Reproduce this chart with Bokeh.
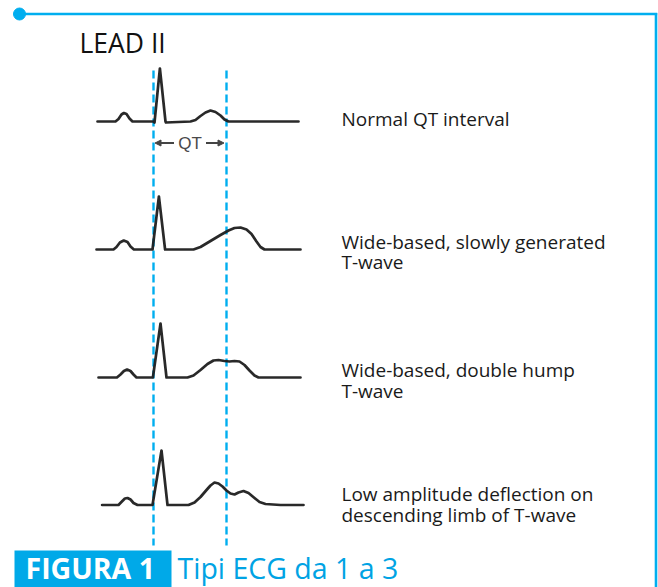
from bokeh.plotting import figure
from bokeh.models import Range1d, Label, Arrow, NormalHead, ColumnDataSource
from bokeh.embed import file_html
from bokeh.resources import INLINE

# ---------------- data ----------------
lead_title = "LEAD II"
row_labels = [
    ["Normal QT interval"],
    ["Wide-based, slowly generated", "T-wave"],
    ["Wide-based, double hump", "T-wave"],
    ["Low amplitude deflection on", "descending limb of T-wave"],
]
qt_label = "QT"
qt_interval_ms = 365          # normal QT (QRS onset -> end of T)
caption_tag = "FIGURA 1"
caption_text = "Tipi ECG da 1 a 3"

# ECG traces: time in ms relative to QRS onset, amplitude in mV
normal_t_ms = [-280, -190, -175, -160, -148, -135, -120, -105, 0, 5, 32, 60, 62, 185,
               210, 235, 260, 285, 310, 335, 355, 375, 725]
normal_mv = [0, 0, 0.05, 0.14, 0.17, 0.15, 0.06, 0, 0, -0.02, 1.06, 0, -0.02, 0,
             0.03, 0.11, 0.18, 0.22, 0.19, 0.12, 0.04, 0, 0]

wide_t_ms = [-285, -200, -185, -168, -149, -130, -115, -98, -5, 27, 58, 200,
             235, 285, 335, 375, 405, 435, 465, 490, 515, 535, 555, 735]
wide_mv = [0, 0, 0.05, 0.14, 0.18, 0.15, 0.06, 0, 0, 1.06, 0, 0,
           0.05, 0.17, 0.29, 0.38, 0.43, 0.44, 0.40, 0.31, 0.16, 0.05, 0, 0]

hump_t_ms = [-275, -183, -165, -148, -132, -115, -100, -85, -3, 35, 65, 170,
             200, 235, 270, 300, 325, 355, 380, 405, 430, 455, 480, 505, 525, 735]
hump_mv = [0, 0, 0.06, 0.13, 0.16, 0.13, 0.06, 0, 0, 1.08, 0, 0,
           0.04, 0.15, 0.27, 0.34, 0.35, 0.33, 0.32, 0.33, 0.32, 0.25, 0.14, 0.04, 0, 0]

notch_t_ms = [-257, -175, -158, -143, -130, -115, -100, -80, -5, 40, 70, 175,
              205, 235, 265, 285, 305, 325, 345, 365, 385, 405, 425, 450, 475, 505,
              530, 560, 635, 750]
notch_mv = [0, 0, 0.07, 0.13, 0.14, 0.11, 0.04, 0, 0, 1.09, 0, 0,
            0.05, 0.16, 0.30, 0.39, 0.45, 0.43, 0.37, 0.29, 0.23, 0.21, 0.25, 0.28, 0.24, 0.14,
            0.06, 0.02, 0, 0]

traces = [(normal_t_ms, normal_mv), (wide_t_ms, wide_mv),
          (hump_t_ms, hump_mv), (notch_t_ms, notch_mv)]

# ---------------- layout / style ----------------
BLUE = "#00AEEF"
INK = "#1e1e1e"
FONT = "Open Sans"

QRS_X = 153.0          # picture x of QRS onset
MS_PER_PX = 5.0
PX_PER_MV = 50.0
row_baselines = [121, 249, 377, 504.5]
label_x = 341
label_y = [[118.5], [241, 261], [369.5, 390], [493.5, 514]]

W, H = 658, 587
p = figure(width=W, height=H, output_backend="svg", toolbar_location=None,
           x_range=Range1d(0, W), y_range=Range1d(H, 0),
           x_axis_type=None, y_axis_type=None, min_border=0,
           outline_line_color=None, background_fill_color="white",
           border_fill_color="white")
p.xgrid.visible = False
p.ygrid.visible = False


def to_x(t):
    return QRS_X + t / MS_PER_PX


# frame: top line with dot, right line
p.segment(x0=[19, 655.5], y0=[13.5, 12.5], x1=[656.7, 655.5], y1=[13.5, 600],
          line_color=BLUE, line_width=2.6)
p.scatter(x=[19], y=[13.5], size=12, color=BLUE)

# dashed QT guide lines
qx = [to_x(0), to_x(qt_interval_ms)]
p.segment(x0=qx, y0=[70, 70], x1=qx, y1=[545, 545], line_color=BLUE,
          line_width=2.4, line_dash="8 4")

# ECG traces
for (tms, mv), base in zip(traces, row_baselines):
    src = ColumnDataSource(dict(x=[to_x(t) for t in tms],
                                y=[base - v * PX_PER_MV for v in mv]))
    p.line("x", "y", source=src, line_color=INK, line_width=2.7,
           line_join="round", line_cap="round", line_alpha=0.95)

# QT arrows
qt_mid = (qx[0] + qx[1]) / 2
qt_y = 142.5
for x_start, x_end in [(qt_mid - 16, qx[0] + 1.5), (qt_mid + 16, qx[1] - 2.5)]:
    p.add_layout(Arrow(end=NormalHead(size=6, fill_color="#444444", line_color="#444444"),
                       x_start=x_start, y_start=qt_y, x_end=x_end, y_end=qt_y,
                       line_color="#444444", line_width=2))
p.add_layout(Label(x=qt_mid, y=qt_y + 0.5, text=qt_label, text_align="center",
                   text_baseline="middle", text_font="Liberation Sans",
                   text_font_size="17px", text_color="#4a4a4a"))

# title
p.add_layout(Label(x=79, y=42, text=lead_title, text_font=FONT,
                   text_font_size="26.5px", text_color="#111111",
                   text_baseline="alphabetic"))

# row labels
for lines, ys in zip(row_labels, label_y):
    for txt, yy in zip(lines, ys):
        p.add_layout(Label(x=label_x, y=yy, text=txt, text_font=FONT,
                           text_font_size="19px", text_color="#1a1a1a",
                           text_baseline="alphabetic"))

# caption
p.quad(left=[14], right=[171], top=[550], bottom=[600], fill_color="#00A9E8",
       line_color=None)
p.add_layout(Label(x=25, y=567, text=caption_tag, text_font=FONT,
                   text_font_style="bold", text_font_size="28.5px",
                   text_color="white", text_baseline="alphabetic"))
p.add_layout(Label(x=177, y=567, text=caption_text, text_font=FONT,
                   text_font_size="28.5px", text_color="#00A3E4",
                   text_baseline="alphabetic"))

open("out.html", "w").write(file_html(p, INLINE))
